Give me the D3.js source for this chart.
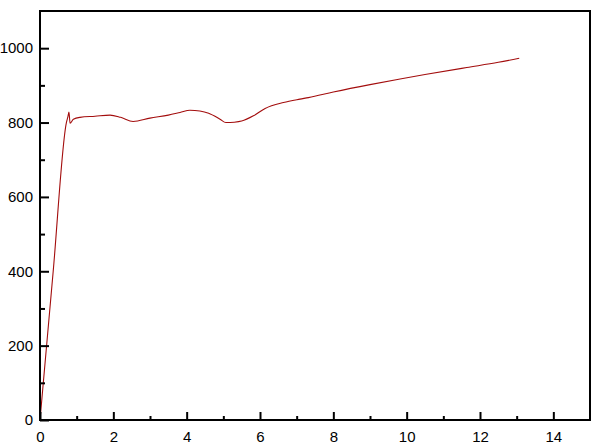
<!DOCTYPE html>
<html><head><meta charset="utf-8">
<script src="https://cdn.jsdelivr.net/npm/d3@7"></script>
<style>body{margin:0;background:#fff}svg{display:block}</style>
</head><body>
<svg id="c" width="606" height="448"></svg>
<script>
const strainX = [0, 0.36, 0.72, 0.76, 0.79, 0.82, 0.91, 1.09, 1.5, 1.91, 2.2, 2.54, 3.0, 3.5, 3.82, 4.09, 4.36, 4.6, 4.91, 5.07, 5.3, 5.5, 5.82, 6.14, 6.64, 7.09, 7.32, 8, 9, 9.82, 10.5, 11.64, 12.5, 13.07];
const stressY = [0, 400, 800, 815, 828, 798, 809, 814, 817, 820, 814, 803, 812, 820, 827, 833, 831, 825, 809, 800, 801, 804, 818, 838, 854, 863, 867, 882, 902, 917, 929, 948, 962, 973];
const xMajor = [0, 2, 4, 6, 8, 10, 12, 14];
const xMinor = [1, 3, 5, 7, 9, 11, 13];
const yMajor = [0, 200, 400, 600, 800, 1000];
const yMinor = [100, 300, 500, 700, 900];

const svg = d3.select('#c');
const L = 40, R = 590, T = 11, B = 420;
const x = d3.scaleLinear().domain([0, 15]).range([L, R]);
const y = d3.scaleLinear().domain([0, 1100]).range([B, T]);

const font = 'Arial, "Liberation Sans", sans-serif';

// curve
const pts = strainX.map((v, i) => [v, stressY[i]]);
svg.append('path').datum(pts)
  .attr('d', d3.line().x(d => x(d[0])).y(d => y(d[1])).curve(d3.curveMonotoneX))
  .attr('fill', 'none').attr('stroke', '#a30d0d').attr('stroke-width', 1.1);

// frame
svg.append('rect').attr('x', L).attr('y', T).attr('width', R - L).attr('height', B - T)
  .attr('fill', 'none').attr('stroke', '#000').attr('stroke-width', 2);

// x axis
const xa = svg.append('g').attr('transform', `translate(0,${B})`)
  .call(d3.axisBottom(x).tickValues(xMajor).tickSizeInner(-8).tickSizeOuter(0).tickPadding(11).tickFormat(d3.format('d')));
xa.select('.domain').remove();
xa.selectAll('line').attr('stroke', '#000').attr('stroke-width', 2);
xa.selectAll('text').attr('font-family', font).attr('font-size', 15).attr('fill', '#000');
svg.append('g').attr('transform', `translate(0,${B})`)
  .call(d3.axisBottom(x).tickValues(xMinor).tickSizeInner(-4).tickSizeOuter(0).tickFormat(''))
  .call(g => { g.select('.domain').remove(); g.selectAll('line').attr('stroke', '#000').attr('stroke-width', 2); });

// y axis
const ya = svg.append('g').attr('transform', `translate(${L},0)`)
  .call(d3.axisLeft(y).tickValues(yMajor).tickSizeInner(-9).tickSizeOuter(0).tickPadding(7).tickFormat(d3.format('d')));
ya.select('.domain').remove();
ya.selectAll('line').attr('stroke', '#000').attr('stroke-width', 2);
ya.selectAll('text').attr('font-family', font).attr('font-size', 15).attr('fill', '#000');
svg.append('g').attr('transform', `translate(${L},0)`)
  .call(d3.axisLeft(y).tickValues(yMinor).tickSizeInner(-5).tickSizeOuter(0).tickFormat(''))
  .call(g => { g.select('.domain').remove(); g.selectAll('line').attr('stroke', '#000').attr('stroke-width', 2); });
</script>
</body></html>
